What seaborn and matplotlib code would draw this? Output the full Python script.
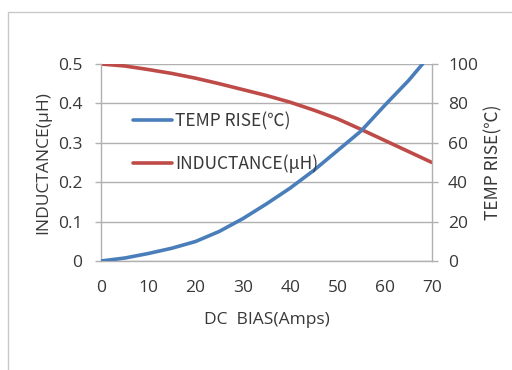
import matplotlib
matplotlib.use("Agg")
import matplotlib.pyplot as plt
import seaborn as sns
import pandas as pd
from matplotlib.patches import Rectangle

# -----------------------------
# Data
# -----------------------------
temp_amps = [0, 5, 10, 15, 20, 25, 30, 35, 40, 45, 50, 55, 60, 65, 68]
temp_rise = [0, 1.5, 3.8, 6.5, 9.9, 15, 21.5, 29, 37, 46, 56, 66, 79, 91.5, 100]

ind_amps = [0, 5, 10, 15, 20, 25, 30, 35, 40, 45, 50, 55, 60, 65, 70]
inductance = [0.5, 0.495, 0.486, 0.476, 0.464, 0.45, 0.435, 0.42, 0.403,
              0.383, 0.361, 0.334, 0.306, 0.278, 0.25]

x_ticks = [0, 10, 20, 30, 40, 50, 60, 70]
left_ticks = [0, 0.1, 0.2, 0.3, 0.4, 0.5]
left_tick_labels = ["0", "0.1", "0.2", "0.3", "0.4", "0.5"]
right_ticks = [0, 20, 40, 60, 80, 100]

temp_df = pd.DataFrame({"amps": temp_amps, "temp": temp_rise})
ind_df = pd.DataFrame({"amps": ind_amps, "ind": inductance})

# -----------------------------
# Style
# -----------------------------
sns.set_style("white")
plt.rcParams["font.family"] = ["Open Sans", "DejaVu Sans"]

blue = "#4a7ebb"
red = "#be4b48"
grid_col = "#b0b0b0"
text_col = "#383838"
fs = 12.5
fam_sym = ["Noto Sans CJK SC", "Open Sans", "DejaVu Sans"]

fig = plt.figure(figsize=(5.12, 3.7), dpi=100)

# outer frame (chart area border)
fig.patches.append(Rectangle((8 / 512, -0.1), 1.2, 1 - 12 / 370 + 0.1,
                             transform=fig.transFigure, fill=False,
                             edgecolor="#c8c8c8", linewidth=1.0))

ax = fig.add_axes([101 / 512, 1 - 261 / 370, 331 / 512, 197 / 370])
ax2 = ax.twinx()

sns.lineplot(data=ind_df, x="amps", y="ind", ax=ax, color=red,
             linewidth=2.6, label="INDUCTANCE(μH)", legend=False)
sns.lineplot(data=temp_df, x="amps", y="temp", ax=ax2, color=blue,
             linewidth=2.6, label="TEMP RISE(℃)", legend=False)

# -----------------------------
# Axes
# -----------------------------
ax.set_xlim(0, 70)
ax.set_ylim(0, 0.5)
ax2.set_ylim(0, 100)

ax.set_xticks(x_ticks)
ax.set_yticks(left_ticks)
ax.set_yticklabels(left_tick_labels)
ax2.set_yticks(right_ticks)

ax.grid(axis="y", color=grid_col, linewidth=1.0)
ax.set_axisbelow(True)

for a in (ax, ax2):
    for s in a.spines.values():
        s.set_visible(False)
ax.spines["left"].set_visible(True)
ax.spines["bottom"].set_visible(True)
ax2.spines["right"].set_visible(True)
for s in (ax.spines["left"], ax.spines["bottom"], ax2.spines["right"]):
    s.set_color(grid_col)
    s.set_linewidth(1.0)

ax.tick_params(axis="both", direction="out", length=4.5, width=1.0,
               color=grid_col, labelsize=fs, labelcolor=text_col)
ax.tick_params(axis="y", pad=9)
ax.tick_params(axis="x", pad=9)
ax2.tick_params(axis="y", direction="out", length=4.5, width=1.0,
                color=grid_col, labelsize=fs, labelcolor=text_col, pad=7)

ax.set_xlabel("DC  BIAS(Amps)", fontsize=fs, color=text_col, va="center")
ax.set_ylabel("INDUCTANCE(μH)", fontsize=fs, color=text_col, va="center")
ax2.set_ylabel("TEMP RISE(℃)", fontsize=fs, color=text_col, va="center",
               family=fam_sym)
ax.xaxis.set_label_coords(0.5, -59 / 197)
ax.yaxis.set_label_coords(-58 / 331, 0.5)
ax2.yaxis.set_label_coords(1 + 61 / 331, 0.5)

# -----------------------------
# Legend
# -----------------------------
h1, l1 = ax2.get_legend_handles_labels()
h2, l2 = ax.get_legend_handles_labels()
leg = ax2.legend(h1 + h2, l1 + l2, loc="upper left",
                 bbox_to_anchor=(0.096, 0.755), frameon=False,
                 fontsize=fs, handlelength=2.25, handletextpad=0.2,
                 labelspacing=1.38, borderaxespad=0, borderpad=0)
for t in leg.get_texts():
    t.set_color(text_col)
    t.set_family(fam_sym)

fig.savefig("out.png", dpi=100)
